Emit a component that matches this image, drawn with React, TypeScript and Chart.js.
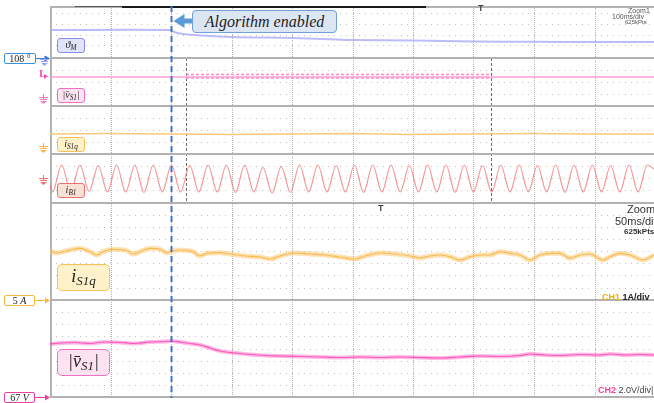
import React, { useEffect, useRef } from "react";
import { Chart, registerables } from "chart.js";
Chart.register(...registerables);

// Screen units: x = 0..604 (10 divisions), y = 0..392 (levels from the bottom of the screen)
const X_MAX = 604;
const Y_MAX = 392;
const DIV_X = 60.5;

// panel separators (levels) and dot rows of the graticule
const PANEL_SEPARATORS = [340, 292, 244, 195, 98];
const DOT_ROWS = [385, 374, 363, 353, 328, 316, 304, 280, 268, 256, 232, 220, 208, 183, 171, 159, 147, 135, 123, 110, 86, 74, 62, 49, 37, 25, 13];
const ENABLE_T = 121; // "Algorithm enabled" instant
const ZOOM_CURSORS = [136, 441];

// Zoom1: theta_M
const thetaT = [0, 121, 124, 133, 151, 181, 242, 287, 302, 363, 424, 484, 545, 604];
const thetaV = [368, 368, 366, 364, 362.5, 361, 360, 358.5, 358, 357.5, 356.5, 356.2, 356, 356];

// Zoom1: |v_S1|
const vS1UpT = [0, 604];
const vS1UpV = [321, 321];
const vS1BandV = [323.5, 320];

// Zoom1: i_S1q
const iS1qUpT = [0, 60, 121, 180, 240, 300, 360, 420, 480, 540, 604];
const iS1qUpV = [264, 264.5, 264, 263.5, 264, 264.5, 263.5, 264, 264.5, 264, 264];

// Zoom1: i_B1 (extrema)
const IB1_FIRST = 2.5;
const IB1_HALF_PERIOD = 9.15;
const IB1_START = 213;
const IB1_END = 229;
const iB1Extrema = [
  206, 233, 206, 233, 206.5, 232.5, 206, 233, 206, 233,
  205.5, 233, 206, 233, 206, 232.5, 206, 233, 206, 233,
  205.5, 233, 206, 230.5, 205, 231.5, 205.5, 233, 206, 233,
  206, 232.5, 206, 233, 205.5, 233, 206, 233, 206, 232.5,
  206, 233, 206, 233, 205.5, 233, 206, 232.5, 206, 233,
  206, 233, 206, 232.5, 206, 233, 205.5, 233, 206, 233,
  206, 232.5, 206, 233, 206, 233,
];

// Zoom2: i_S1q
const iS1qT = [0, 7, 13, 20, 30, 40, 47, 53, 63, 77, 83, 90, 100, 110, 117, 120, 130, 143, 150, 157, 170, 180, 195, 210, 220, 230, 245, 260, 275, 290, 305, 315, 330, 345, 360, 370, 380, 390, 400, 410, 420, 430, 440, 450, 460, 470, 480, 490, 500, 510, 520, 530, 540, 553, 560, 570, 580, 593, 604];
const iS1qV = [147.3, 145, 146.3, 148, 149.7, 146.3, 143, 146.3, 148.7, 147.3, 144, 146.3, 149.7, 148.7, 145, 146.3, 148, 146.3, 142, 144.7, 145.3, 144, 142, 141, 139, 142, 145, 144, 143, 141, 139, 142, 145, 144, 142, 140, 142, 143, 141.3, 138, 141.3, 143, 143, 146.3, 144.7, 143, 138, 143, 144.7, 144.7, 139.7, 143, 144, 138, 141.3, 144.7, 143, 138, 143];

// Zoom2: |v_S1|
const vS1T = [0, 10, 25, 40, 55, 70, 85, 100, 115, 121, 130, 140, 150, 160, 170, 185, 200, 215, 230, 250, 270, 290, 310, 330, 350, 370, 390, 410, 430, 450, 470, 480, 495, 510, 530, 550, 560, 575, 590, 604];
const vS1V = [54, 55, 55.5, 54.5, 56, 55.5, 54.5, 56, 56.5, 57, 56, 54.5, 53, 50, 47, 45, 43.5, 42.5, 42, 41.5, 41, 40.5, 41, 40.5, 41, 40.5, 40, 41, 42, 41.5, 42.5, 44, 43, 42.5, 43.5, 43, 44, 43, 43.5, 43];

const pts = (t: number[], v: number[]) => t.map((x, i) => ({ x, y: v[i] }));

function ground(ctx: CanvasRenderingContext2D, x: number, y: number, color: string) {
  ctx.strokeStyle = color;
  ctx.fillStyle = color;
  ctx.lineWidth = 1;
  ctx.beginPath();
  ctx.moveTo(x - 4, y + 0.5); ctx.lineTo(x + 5, y + 0.5);
  ctx.moveTo(x - 3, y + 2.5); ctx.lineTo(x + 4, y + 2.5);
  ctx.moveTo(x + 0.5, y - 3); ctx.lineTo(x + 0.5, y + 3);
  ctx.stroke();
  ctx.beginPath();
  ctx.moveTo(x - 3, y + 4); ctx.lineTo(x + 4, y + 4); ctx.lineTo(x + 0.5, y + 7); ctx.closePath();
  ctx.fill();
}

function leftArrow(ctx: CanvasRenderingContext2D, x0: number, x1: number, y: number, color: string) {
  ctx.strokeStyle = color;
  ctx.fillStyle = color;
  ctx.lineWidth = 1;
  ctx.beginPath();
  ctx.moveTo(x0, y + 0.5); ctx.lineTo(x1 - 4, y + 0.5);
  ctx.stroke();
  ctx.beginPath();
  ctx.moveTo(x1 - 5, y - 2.5); ctx.lineTo(x1, y + 0.5); ctx.lineTo(x1 - 5, y + 3.5); ctx.closePath();
  ctx.fill();
}

const screenPlugin = {
  id: "screen",
  beforeDatasetsDraw(chart: any) {
    const { ctx, chartArea: a, scales } = chart;
    const x = scales.x, y = scales.y;
    ctx.save();
    ctx.fillStyle = "#ffffff";
    ctx.fillRect(0, 0, chart.width, chart.height);
    // dot lattice
    ctx.fillStyle = "#c2c2c2";
    for (const lv of DOT_ROWS) {
      const py = Math.round(y.getPixelForValue(lv));
      for (let t = DIV_X / 10; t < X_MAX; t += DIV_X / 10) {
        ctx.fillRect(Math.round(x.getPixelForValue(t)), py, 1, 1);
      }
    }
    // major verticals (dotted)
    ctx.fillStyle = "#b4b4b4";
    for (let k = 1; k < 10; k++) {
      const px = Math.round(x.getPixelForValue(k * DIV_X));
      for (let py = a.top; py < a.bottom; py += 2) ctx.fillRect(px, py, 1, 1);
    }
    // zoom cursors
    ctx.strokeStyle = "#6a6a6a";
    ctx.lineWidth = 1;
    ctx.setLineDash([3, 2]);
    for (const c of ZOOM_CURSORS) {
      const px = Math.round(x.getPixelForValue(c)) + 0.5;
      ctx.beginPath();
      ctx.moveTo(px, y.getPixelForValue(PANEL_SEPARATORS[0]));
      ctx.lineTo(px, y.getPixelForValue(PANEL_SEPARATORS[3]));
      ctx.stroke();
    }
    ctx.setLineDash([]);
    // separators
    ctx.strokeStyle = "#b2b2b2";
    ctx.lineWidth = 2;
    for (const lv of PANEL_SEPARATORS) {
      const py = Math.round(y.getPixelForValue(lv));
      ctx.beginPath(); ctx.moveTo(a.left, py); ctx.lineTo(a.right, py); ctx.stroke();
    }
    ctx.beginPath(); ctx.moveTo(a.left, a.bottom - 1); ctx.lineTo(a.right, a.bottom - 1); ctx.stroke();
    ctx.beginPath(); ctx.moveTo(a.left, a.top + 1); ctx.lineTo(a.right, a.top + 1); ctx.stroke();
    ctx.beginPath(); ctx.moveTo(a.left + 1, a.top); ctx.lineTo(a.left + 1, a.bottom); ctx.stroke();
    // top record bar
    ctx.strokeStyle = "#555";
    ctx.lineWidth = 1;
    ctx.beginPath(); ctx.moveTo(75, a.top + 0.5); ctx.lineTo(122, a.top + 0.5); ctx.stroke();
    ctx.strokeStyle = "#1a1a1a";
    ctx.lineWidth = 2;
    ctx.beginPath(); ctx.moveTo(122, a.top + 1); ctx.lineTo(426, a.top + 1); ctx.stroke();
    ctx.restore();
  },
  afterDatasetsDraw(chart: any) {
    const { ctx, chartArea: a, scales } = chart;
    const x = scales.x, y = scales.y;
    ctx.save();
    // algorithm enabled marker
    const bx = Math.round(x.getPixelForValue(ENABLE_T)) + 0.5;
    ctx.strokeStyle = "#4472c4";
    ctx.lineWidth = 2;
    ctx.setLineDash([6, 4]);
    ctx.beginPath(); ctx.moveTo(bx, a.top); ctx.lineTo(bx, a.bottom); ctx.stroke();
    ctx.setLineDash([]);
    // block arrow toward the marker
    ctx.fillStyle = "#5b9bd5";
    ctx.beginPath();
    ctx.moveTo(bx + 2, 21);
    ctx.lineTo(bx + 13, 14);
    ctx.lineTo(bx + 13, 18.5);
    ctx.lineTo(193, 18.5);
    ctx.lineTo(193, 23.5);
    ctx.lineTo(bx + 13, 23.5);
    ctx.lineTo(bx + 13, 28);
    ctx.closePath();
    ctx.fill();
    // left-side channel markers
    const sep0 = Math.round(y.getPixelForValue(PANEL_SEPARATORS[0]));
    leftArrow(ctx, 36, a.left, sep0, "#2f7fd0");
    ground(ctx, 44, sep0 + 1, "#9aa6f0");
    ground(ctx, 43, 97, "#f07cc4");
    ground(ctx, 43, 146, "#f4b64a");
    ground(ctx, 43, 178, "#ee7070");
    leftArrow(ctx, 35, a.left, Math.round(y.getPixelForValue(PANEL_SEPARATORS[4])), "#f5b942");
    leftArrow(ctx, 35, a.left, Math.round(y.getPixelForValue(0)) - 1, "#e8409e");
    // trigger level marker
    ctx.fillStyle = "#f050b0";
    ctx.beginPath(); ctx.moveTo(44, 74); ctx.lineTo(48, 76.5); ctx.lineTo(44, 79); ctx.closePath(); ctx.fill();
    ctx.restore();
  },
};

const boxBase: React.CSSProperties = {
  position: "absolute",
  boxSizing: "border-box",
  borderRadius: 3,
  display: "flex",
  alignItems: "center",
  justifyContent: "center",
  fontFamily: "'Liberation Serif', 'DejaVu Serif', serif",
  fontStyle: "italic",
  color: "#222",
  whiteSpace: "nowrap",
  lineHeight: 1,
};

function Box(props: { left: number; top: number; w: number; h: number; fill: string; border: string; size: number; children: React.ReactNode; radius?: number }) {
  return (
    <div style={{ ...boxBase, left: props.left, top: props.top, width: props.w, height: props.h, background: props.fill, border: `1px solid ${props.border}`, fontSize: props.size, borderRadius: props.radius ?? 3 }}>
      <span>{props.children}</span>
    </div>
  );
}

const subSmall: React.CSSProperties = { fontSize: "0.72em", verticalAlign: "-0.25em" };
const sans: React.CSSProperties = { position: "absolute", fontFamily: "'Liberation Sans', 'DejaVu Sans', sans-serif", whiteSpace: "nowrap", lineHeight: 1 };

export default function App() {
  const ref = useRef<HTMLCanvasElement>(null);
  useEffect(() => {
    if (!ref.current) return;
    const iB1T = [0, ...iB1Extrema.map((_, k) => IB1_FIRST + k * IB1_HALF_PERIOD), X_MAX];
    const iB1V = [IB1_START, ...iB1Extrema, IB1_END];
    const chart = new Chart(ref.current, {
      type: "line",
      data: {
        datasets: [
          { data: pts(thetaT, thetaV), borderColor: "rgba(165,165,250,0.75)", borderWidth: 2, tension: 0.3 },
          { data: pts(vS1UpT, vS1UpV), borderColor: "#ff9fd4", borderWidth: 1.5 },
          { data: pts(ZOOM_CURSORS, [vS1BandV[0], vS1BandV[0]]), borderColor: "#ff88cc", borderWidth: 1.5, borderDash: [3, 2] },
          { data: pts(ZOOM_CURSORS, [vS1BandV[1], vS1BandV[1]]), borderColor: "#ff88cc", borderWidth: 1.5, borderDash: [3, 2] },
          { data: pts(iS1qUpT, iS1qUpV), borderColor: "#f8c878", borderWidth: 1.5 },
          { data: pts(iB1T, iB1V), borderColor: "rgba(238,110,110,0.7)", borderWidth: 1.2, cubicInterpolationMode: "monotone" },
          { data: pts(iS1qT, iS1qV), borderColor: "rgba(250,190,90,0.45)", borderWidth: 5, cubicInterpolationMode: "monotone" },
          { data: pts(iS1qT, iS1qV), borderColor: "rgba(245,170,50,0.85)", borderWidth: 1.2, cubicInterpolationMode: "monotone" },
          { data: pts(vS1T, vS1V), borderColor: "rgba(255,100,195,0.45)", borderWidth: 4, cubicInterpolationMode: "monotone" },
          { data: pts(vS1T, vS1V), borderColor: "rgba(250,60,170,0.9)", borderWidth: 1.2, cubicInterpolationMode: "monotone" },
        ] as any,
      },
      options: {
        animation: false,
        responsive: false,
        maintainAspectRatio: false,
        events: [],
        layout: { padding: { left: 50, top: 6, right: 0, bottom: 5 } },
        scales: {
          x: { type: "linear", min: 0, max: X_MAX, display: false },
          y: { type: "linear", min: 0, max: Y_MAX, display: false },
        },
        elements: { point: { radius: 0 } },
        plugins: { legend: { display: false }, tooltip: { enabled: false } },
      },
      plugins: [screenPlugin],
    });
    return () => chart.destroy();
  }, []);

  return (
    <div style={{ position: "fixed", left: 0, top: 0, width: 654, height: 403, overflow: "hidden", background: "#fff" }}>
      <canvas ref={ref} width={654} height={403} style={{ position: "absolute", left: 0, top: 0, width: 654, height: 403 }} />

      <Box left={192} top={10} w={145} h={23} fill="#dce6f3" border="#6fa0d8" size={16} radius={4}>Algorithm enabled</Box>

      <Box left={57} top={38} w={28} h={15} fill="#dfe4f8" border="#8c8ce8" size={10}>ϑ<span style={subSmall}>M</span></Box>
      <Box left={57} top={88} w={28} h={15} fill="#fde3f2" border="#f070c2" size={10}>|v̄<span style={subSmall}>S1</span>|</Box>
      <Box left={57} top={137} w={28} h={15} fill="#fff1c9" border="#f6c35a" size={10}>i<span style={subSmall}>S1q</span></Box>
      <Box left={57} top={183} w={28} h={15} fill="#fbe0d6" border="#e87272" size={10}>i<span style={subSmall}>B1</span></Box>

      <Box left={57} top={264} w={53} h={27} fill="#fff1c9" border="#f6c35a" size={18} radius={5}>i<span style={subSmall}>S1q</span></Box>
      <Box left={57} top={349} w={53} h={27} fill="#fde3f2" border="#f070c2" size={18} radius={5}>|v̄<span style={subSmall}>S1</span>|</Box>

      <Box left={4} top={53} w={32} h={11} fill="#ffffff" border="#3b8fd8" size={10} radius={2}><span style={{ fontStyle: "normal" }}>108 °</span></Box>
      <Box left={4} top={295} w={31} h={11} fill="#ffffff" border="#f5b942" size={10} radius={2}><span style={{ fontStyle: "normal" }}>5 </span>A</Box>
      <Box left={4} top={392} w={31} h={11} fill="#ffffff" border="#e8409e" size={10} radius={2}><span style={{ fontStyle: "normal" }}>67 </span>V</Box>

      <div style={{ ...sans, left: 39, top: 68, fontSize: 11, fontWeight: 700, color: "#f050b0", fontFamily: "'Liberation Serif', serif" }}>L</div>

      <div style={{ ...sans, left: 478, top: 4, fontSize: 9, fontWeight: 700, color: "#444" }}>T</div>
      <div style={{ ...sans, left: 378, top: 204, fontSize: 9, fontWeight: 700, color: "#444" }}>T</div>

      <div style={{ ...sans, left: 628, top: 7, fontSize: 7, color: "#555" }}>Zoom1</div>
      <div style={{ ...sans, left: 612, top: 13, fontSize: 7, color: "#555" }}>100ms/div</div>
      <div style={{ ...sans, left: 625, top: 19, fontSize: 6, color: "#555" }}>625kPts</div>

      <div style={{ ...sans, left: 627, top: 204, fontSize: 11, color: "#333" }}>Zoom2</div>
      <div style={{ ...sans, left: 615, top: 216, fontSize: 11, color: "#333" }}>50ms/div</div>
      <div style={{ ...sans, left: 624, top: 228, fontSize: 8, fontWeight: 700, color: "#333" }}>625kPts</div>

      <div style={{ ...sans, left: 602, top: 293, fontSize: 9, fontWeight: 700 }}>
        <span style={{ color: "#f5b000" }}>CH1 </span><span style={{ color: "#222" }}>1A/div</span>
      </div>
      <div style={{ ...sans, left: 598, top: 386, fontSize: 9 }}>
        <span style={{ color: "#ff3fa0", fontWeight: 700 }}>CH2 </span><span style={{ color: "#444" }}>2.0V/div|</span>
      </div>
    </div>
  );
}
